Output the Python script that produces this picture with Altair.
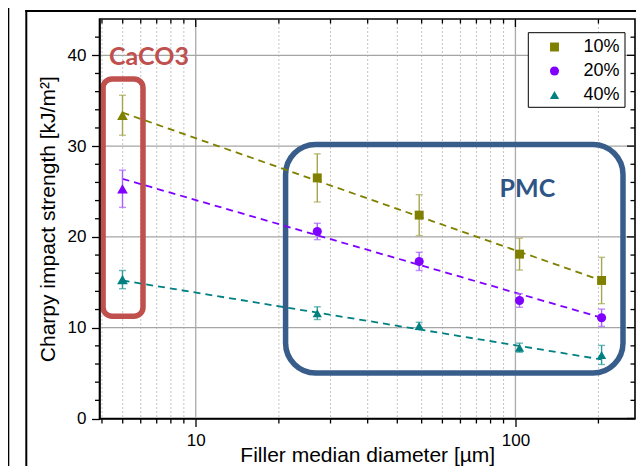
import altair as alt
import pandas as pd

# ---------------- data ----------------
series = ["10%", "20%", "40%"]
series_colors = ["#808000", "#8000ff", "#008080"]
error_colors = ["#a6a650", "#a860ff", "#2f9a9a"]
pmc_shapes = ["square", "circle", "triangle-up"]
pmc_sizes = [80, 85, 115]

caco3_d = [5.9, 5.9, 5.9]
caco3_strength = [33.4, 25.3, 15.3]
caco3_error = [2.2, 2.05, 1.0]

pmc_d = [24, 50, 103, 186]
pmc_10 = [26.5, 22.4, 18.1, 15.2]
pmc_20 = [20.6, 17.3, 13.0, 11.1]
pmc_40 = [11.6, 10.2, 7.8, 7.0]
pmc_10_err = [2.65, 2.25, 1.75, 2.55]
pmc_20_err = [0.9, 1.0, 0.75, 0.95]
pmc_40_err = [0.7, 0.4, 0.5, 1.05]

fit_d = [5.9, 186]
fit_10 = [33.7, 15.2]
fit_20 = [26.4, 11.1]
fit_40 = [15.2, 6.5]

x_labels = [10, 100]
x_minor = [5.09, 5.91, 6.73, 7.55, 8.36, 9.18, 18.2, 26.4, 34.5, 42.7, 50.9,
           59.1, 67.3, 75.5, 83.6, 91.8, 181.8]
y_labels = [0, 10, 20, 30, 40]
y_grid = [10, 20, 30, 40]
y_minor = [2, 4, 6, 8, 12, 14, 16, 18, 22, 24, 26, 28, 32, 34, 36, 38, 42]

# annotation boxes / labels (data coordinates)
caco3_box_x = [5.13, 6.84]
caco3_box_y = [11.26, 37.4]
pmc_box_x = [19.1, 217]
pmc_box_y = [5.01, 30.18]
caco3_label_pos = [7.14, 38.9]
pmc_label_pos = [109, 24.4]

# ---------------- layout ----------------
W, H = 535.5, 399.5
PAD = {"left": 91.5, "top": 11, "right": 1, "bottom": 47.5}
FONT = "Liberation Sans"
xscale = alt.Scale(type="log", domain=[5, 236.6], nice=False)
yscale = alt.Scale(domain=[0, 44], nice=False, zero=False)

xaxis = alt.Axis(values=x_labels, format="d", grid=False, tickSize=8,
                 labelPadding=6, titleX=W / 2, titleY=42.8,
                 titleBaseline="alphabetic", zindex=1,
                 title="Filler median diameter [µm]")
yaxis = alt.Axis(values=y_labels, format="d", grid=False, tickSize=8,
                 labelPadding=5.5, titleX=-45.5, titleY=H / 2,
                 titleBaseline="alphabetic", titleAngle=-90, zindex=1,
                 title="Charpy impact strength [kJ/m²]")

one = pd.DataFrame({"k": [0]})


def X(field):
    return alt.X(field, type="quantitative", scale=xscale, axis=xaxis)


def Y(field):
    return alt.Y(field, type="quantitative", scale=yscale, axis=yaxis)


layers = []

# slide frame lines
layers.append(alt.Chart(one).mark_rule(color="black", strokeWidth=2.6).encode(
    x=alt.value(-91.5), y=alt.value(-12), y2=alt.value(H + 60)))
layers.append(alt.Chart(one).mark_rule(color="black", strokeWidth=2).encode(
    x=alt.value(-73.2), y=alt.value(-9), y2=alt.value(H + 60)))
layers.append(alt.Chart(one).mark_rule(color="black", strokeWidth=2).encode(
    y=alt.value(-8), x=alt.value(-74.2), x2=alt.value(W + 10)))

# grid
layers.append(alt.Chart(pd.DataFrame({"v": x_minor})).mark_rule(
    color="#c4c4c4", strokeWidth=1, strokeDash=[2, 2]).encode(
    x=X("v"), y=alt.value(0), y2=alt.value(H)))
layers.append(alt.Chart(pd.DataFrame({"v": x_labels})).mark_rule(
    color="#ababab", strokeWidth=1.3).encode(
    x=X("v"), y=alt.value(0), y2=alt.value(H)))
layers.append(alt.Chart(pd.DataFrame({"v": y_grid})).mark_rule(
    color="#a5a5a5", strokeWidth=1.2).encode(
    y=Y("v"), x=alt.value(0), x2=alt.value(W)))

# legend box
layers.append(alt.Chart(one).mark_rect(fill="white", stroke="black", strokeWidth=1).encode(
    x=alt.value(428.8), x2=alt.value(525.5), y=alt.value(13.7), y2=alt.value(88.3)))

# annotation boxes
box_df = pd.DataFrame({
    "x1": [caco3_box_x[0], pmc_box_x[0]], "x2": [caco3_box_x[1], pmc_box_x[1]],
    "y1": [caco3_box_y[0], pmc_box_y[0]], "y2": [caco3_box_y[1], pmc_box_y[1]],
})
layers.append(alt.Chart(box_df.iloc[[0]]).mark_rect(
    fill="transparent", stroke="#c0504d", strokeWidth=5.5, cornerRadius=9).encode(
    x=X("x1"), x2="x2", y=Y("y1"), y2="y2"))
layers.append(alt.Chart(box_df.iloc[[1]]).mark_rect(
    fill="transparent", stroke="#385d8a", strokeWidth=5.5, cornerRadius=30).encode(
    x=X("x1"), x2="x2", y=Y("y1"), y2="y2"))

# annotation labels
layers.append(alt.Chart(pd.DataFrame({"x": [caco3_label_pos[0]], "y": [caco3_label_pos[1]], "t": ["CaCO3"]}))
              .mark_text(font="Lato", fontWeight="bold", fontSize=25, color="#c0504d",
                         align="center", baseline="alphabetic")
              .encode(x=X("x"), y=Y("y"), text="t:N"))
layers.append(alt.Chart(pd.DataFrame({"x": [pmc_label_pos[0]], "y": [pmc_label_pos[1]], "t": ["PMC"]}))
              .mark_text(font="Lato", fontWeight="bold", fontSize=25, color="#2f5486",
                         align="center", baseline="alphabetic")
              .encode(x=X("x"), y=Y("y"), text="t:N"))

# fit lines
for fit, col in zip([fit_10, fit_20, fit_40], series_colors):
    layers.append(alt.Chart(pd.DataFrame({"d": fit_d, "s": fit})).mark_line(
        color=col, strokeWidth=1.8, strokeDash=[7, 5]).encode(x=X("d"), y=Y("s")))

# error bars
pmc_vals = [pmc_10, pmc_20, pmc_40]
pmc_errs = [pmc_10_err, pmc_20_err, pmc_40_err]
for i, ecol in enumerate(error_colors):
    d = [caco3_d[i]] + pmc_d
    v = [caco3_strength[i]] + pmc_vals[i]
    e = [caco3_error[i]] + pmc_errs[i]
    edf = pd.DataFrame({"d": d, "lo": [a - b for a, b in zip(v, e)],
                        "hi": [a + b for a, b in zip(v, e)]})
    layers.append(alt.Chart(edf).mark_rule(color=ecol, strokeWidth=1.4).encode(
        x=X("d"), y=Y("lo"), y2="hi"))
    for end in ["lo", "hi"]:
        layers.append(alt.Chart(edf).mark_tick(color=ecol, orient="horizontal",
                                               size=7, thickness=1.4).encode(
            x=X("d"), y=Y(end)))

# CaCO3 points (all triangles), one layer per series
for i, col in enumerate(series_colors):
    cdf = pd.DataFrame({"d": [caco3_d[i]], "s": [caco3_strength[i]]})
    layers.append(alt.Chart(cdf).mark_point(filled=True, opacity=1, shape="triangle-up",
                                            size=115, color=col).encode(x=X("d"), y=Y("s")))

# PMC points (carry the legend)
color_scale = alt.Scale(domain=series, range=series_colors)
legend = alt.Legend(title=None)
rows = []
for sname, vals in zip(series, pmc_vals):
    for dd, vv in zip(pmc_d, vals):
        rows.append({"d": dd, "s": vv, "series": sname})
pmc_df = pd.DataFrame(rows)
layers.append(alt.Chart(pmc_df).mark_point(filled=True, opacity=1).encode(
    x=X("d"), y=Y("s"),
    color=alt.Color("series:N", scale=color_scale, legend=legend),
    shape=alt.Shape("series:N", scale=alt.Scale(domain=series, range=pmc_shapes), legend=legend),
    size=alt.Size("series:N", scale=alt.Scale(domain=series, range=pmc_sizes), legend=None),
))

# minor ticks and mirrored ticks
tk = dict(color="black", strokeWidth=1.3)
xm = pd.DataFrame({"v": x_minor})
xM = pd.DataFrame({"v": x_labels})
ym = pd.DataFrame({"v": y_minor})
yM = pd.DataFrame({"v": y_labels})
layers.append(alt.Chart(xm).mark_rule(**tk).encode(x=X("v"), y=alt.value(H), y2=alt.value(H + 5)))
layers.append(alt.Chart(xm).mark_rule(**tk).encode(x=X("v"), y=alt.value(0), y2=alt.value(4.5)))
layers.append(alt.Chart(xM).mark_rule(**tk).encode(x=X("v"), y=alt.value(0), y2=alt.value(8)))
layers.append(alt.Chart(ym).mark_rule(**tk).encode(y=Y("v"), x=alt.value(0), x2=alt.value(-4.5)))
layers.append(alt.Chart(ym).mark_rule(**tk).encode(y=Y("v"), x=alt.value(W), x2=alt.value(W - 4.5)))
layers.append(alt.Chart(yM).mark_rule(**tk).encode(y=Y("v"), x=alt.value(W), x2=alt.value(W - 8)))

chart = alt.layer(*layers).properties(
    width=W, height=H,
    autosize=alt.AutoSizeParams(type="none"),
    padding=PAD,
    background="white",
).configure_view(stroke="black", strokeWidth=1.6).configure_axis(
    labelFont=FONT, labelFontSize=17, labelColor="black",
    titleFont=FONT, titleFontSize=21, titleFontWeight="normal", titleColor="black",
    domainColor="black", domainWidth=1.6, tickColor="black", tickWidth=1.3,
).configure_legend(
    orient="none", legendX=446, legendY=19, padding=0,
    symbolSize=90, symbolStrokeWidth=0, symbolOpacity=1,
    labelFont=FONT, labelFontSize=18, labelColor="black",
    labelOffset=20, rowPadding=6,
)

chart.save("out.html", embed_options={"renderer": "svg", "actions": False})
